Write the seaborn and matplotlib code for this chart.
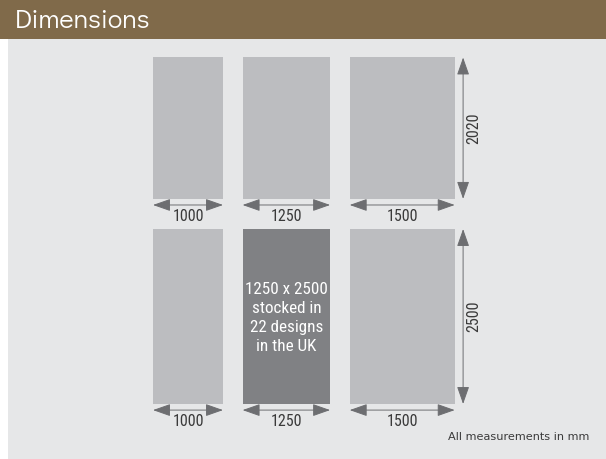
import matplotlib
matplotlib.use("Agg")
import matplotlib.pyplot as plt
import seaborn as sns
from matplotlib import font_manager
from matplotlib.patches import Rectangle

# panel sizes in mm
widths = [1000, 1250, 1500]
heights = [2020, 2500]
width_labels = ["1000", "1250", "1500"]
height_labels = ["2020", "2500"]
featured = (1, 1)  # column, row of the stocked size
featured_text = "1250 x 2500\nstocked in\n22 designs\nin the UK"
title = "Dimensions"
note = "All measurements in mm"


def pick(candidates):
    have = {f.name for f in font_manager.fontManager.ttflist}
    for c in candidates:
        if c in have:
            return c
    return "DejaVu Sans"


sns.set_theme(style="white")
narrow = [pick(["Roboto Condensed", "Liberation Sans Narrow", "Archivo Narrow",
                "PT Sans Narrow", "Fira Sans Condensed", "Roboto"]), "DejaVu Sans"]
gothic = [pick(["Didact Gothic", "Questrial", "Lato"]), "DejaVu Sans"]

BG = "#e6e7e8"
HEAD = "#806a4a"
LIGHT = "#bcbdc0"
DARK = "#808184"
ARROW = "#6d6e71"
TEXT = "#3a3a3a"

W, H = 606, 459
fig = plt.figure(figsize=(W / 100, H / 100), dpi=100)
fig.patch.set_facecolor("white")

# header band
fig.patches.append(Rectangle((0, 1 - 39 / H), 1, 39 / H, transform=fig.transFigure,
                             facecolor=HEAD, edgecolor="none", zorder=0))
fig.text(15 / W, 1 - 20.5 / H, title, color="white", fontsize=19.5, va="center",
         ha="left", family=gothic)

# drawing area in mm; 0.07 px per mm
scale = 0.07
left_px, top_px = 8, 39
ax = fig.add_axes([left_px / W, 0, 1 - left_px / W, 1 - top_px / H])
ax.set_facecolor(BG)
x0_px, y0_px = 153, 404
ax.set_xlim((left_px - x0_px) / scale, (W - x0_px) / scale)
ax.set_ylim(-(H - y0_px) / scale, (y0_px - top_px) / scale)
for s in ax.spines.values():
    s.set_visible(False)
ax.set_xticks([])
ax.set_yticks([])

col_gap, row_gap = 280, 430
starts = []
pos = 0
for w in widths:
    starts.append(pos)
    pos += w + col_gap
bottoms = [heights[1] + row_gap, 0]  # top row (2020), bottom row (2500)

arrow_style = "<|-|>,head_length=10.8,head_width=3.8"
for r, (h, b) in enumerate(zip(heights, bottoms)):
    colors = [DARK if (c, r) == featured else LIGHT for c in range(len(widths))]
    ax.bar(starts, [h] * len(widths), width=widths, bottom=b, align="edge",
           color=colors, edgecolor="none")
    for c, w in enumerate(widths):
        ya = b - 87
        ax.annotate("", xy=(starts[c] + w, ya), xytext=(starts[c], ya),
                    arrowprops=dict(arrowstyle=arrow_style, color=ARROW, lw=0.7,
                                    shrinkA=0, shrinkB=0, mutation_scale=1))
        ax.text(starts[c] + w / 2, b - 255, width_labels[c], ha="center",
                va="center", fontsize=11.5, color=TEXT, family=narrow)
    xv = starts[-1] + widths[-1] + 120
    ax.annotate("", xy=(xv, b + h), xytext=(xv, b),
                arrowprops=dict(arrowstyle=arrow_style, color=ARROW, lw=0.7,
                                shrinkA=0, shrinkB=0, mutation_scale=1))
    ax.text(xv + 150, b + h / 2, height_labels[r], rotation=90, ha="center",
            va="center", fontsize=11.5, color=TEXT, family=narrow)

fc, fr = featured
ax.text(starts[fc] + widths[fc] / 2, bottoms[fr] + heights[fr] * 0.5 - 25, featured_text,
        ha="center", va="center", color="white", fontsize=12.3, family=narrow,
        linespacing=1.32)

ax.text((589 - x0_px) / scale, -(437 - y0_px) / scale, note, ha="right",
        va="center", fontsize=8.1, color=TEXT, family=["DejaVu Sans"])

fig.savefig("out.png", dpi=100, facecolor=fig.get_facecolor())
